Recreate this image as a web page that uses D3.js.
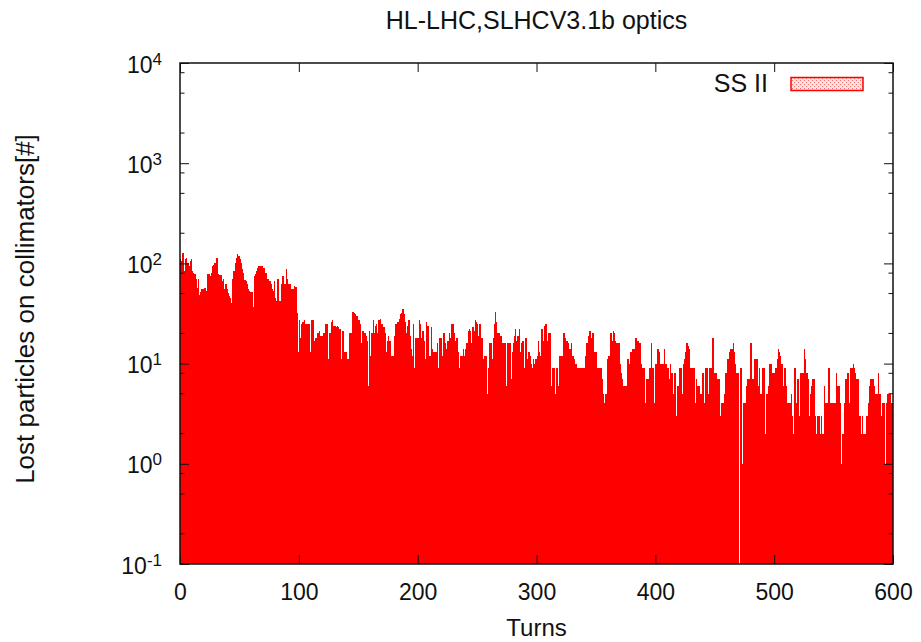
<!DOCTYPE html>
<html>
<head>
<meta charset="utf-8">
<script src="https://cdn.jsdelivr.net/npm/d3@7"></script>
<style>
  body { margin: 0; background: #fff; }
  #svg-container { width: 921px; height: 642px; }
  text { font-family: "Liberation Sans", Arial, Helvetica, sans-serif; fill: #111; }
</style>
</head>
<body>
<div id="svg-container"></div>
<script>
////////////////////////////////////////////////////////////////////
////////////////////////////  Data  ////////////////////////////////
// lost particles per turn (one value per turn)
const lostTurns000 = [
  110, 105, 128, 84, 110, 114, 100, 94, 105, 110,
  84, 81, 78, 70, 57, 70, 48, 52, 55, 55,
  57, 57, 53, 78, 78, 75, 81, 94, 97, 100,
  114, 114, 78, 76, 76, 66, 70, 55, 62, 55,
  51, 47, 45, 40, 70, 84, 100, 112, 123, 118,
  110, 100, 88, 81, 68, 66, 62, 55, 53, 52,
  52, 37, 75, 78, 84, 90, 95, 95, 94, 94,
  90, 81, 81, 70, 70, 66, 62, 55, 53, 66,
  45, 42, 70, 42, 42, 62, 75, 62, 62, 88,
  70, 62, 62, 55, 55, 55, 60, 58, 32, 13
];
const lostTurns100 = [
  27, 18, 25, 26, 27, 25, 25, 25, 25, 13,
  27, 27, 27, 17, 18, 20, 20, 21, 19, 19,
  20, 20, 25, 25, 11, 20, 20, 26, 27, 24,
  24, 23, 24, 23, 22, 11, 21, 21, 13, 13,
  11, 11, 20, 20, 20, 33, 32, 31, 30, 30,
  27, 25, 16, 21, 21, 20, 19, 17, 6, 21,
  12, 20, 27, 20, 24, 25, 20, 27, 28, 25,
  25, 23, 20, 13, 17, 19, 17, 12, 12, 12,
  19, 25, 25, 26, 28, 31, 32, 35, 31, 26,
  20, 24, 27, 19, 14, 12, 25, 9, 18, 18
];
const lostTurns200 = [
  18, 27, 25, 18, 21, 17, 11, 26, 24, 12,
  12, 23, 14, 13, 13, 13, 16, 9, 18, 18,
  12, 20, 20, 16, 14, 17, 20, 18, 25, 25,
  20, 17, 18, 18, 13, 9, 12, 12, 14, 12,
  14, 16, 21, 22, 21, 16, 23, 21, 27, 26,
  25, 19, 25, 18, 18, 11, 12, 12, 5, 9,
  16, 16, 11, 18, 25, 33, 26, 20, 20, 19,
  19, 16, 16, 16, 6, 16, 16, 16, 7, 13,
  16, 19, 22, 17, 19, 22, 13, 16, 17, 9,
  18, 18, 11, 13, 12, 10, 9, 11, 10, 11
];
const lostTurns300 = [
  12, 17, 13, 12, 22, 17, 24, 25, 25, 17,
  20, 20, 6, 9, 9, 5, 9, 9, 6, 12,
  12, 12, 20, 20, 18, 17, 16, 14, 14, 16,
  12, 11, 10, 10, 9, 9, 9, 9, 9, 9,
  9, 12, 16, 19, 21, 21, 18, 20, 13, 13,
  13, 9, 9, 9, 9, 7, 5, 4, 5, 11,
  12, 12, 20, 17, 21, 20, 17, 16, 16, 16,
  10, 8, 7, 6, 6, 6, 11, 11, 10, 13,
  14, 14, 14, 18, 17, 17, 16, 16, 10, 9,
  9, 4, 7, 7, 7, 9, 16, 9, 9, 4
];
const lostTurns400 = [
  10, 14, 14, 13, 10, 10, 10, 14, 10, 10,
  9, 7, 10, 8, 8, 5, 8, 3, 6, 6,
  9, 9, 5, 10, 11, 13, 16, 15, 14, 9,
  9, 9, 9, 4, 7, 6, 6, 4, 5, 8,
  8, 4, 9, 9, 5, 9, 9, 9, 18, 8,
  8, 8, 7, 7, 3, 4, 4, 4, 5, 8,
  11, 11, 13, 14, 14, 16, 13, 10, 8, 8,
  0, 9, 9, 1, 4, 4, 6, 7, 7, 7,
  16, 7, 7, 11, 11, 11, 6, 9, 5, 5,
  9, 9, 2, 5, 5, 6, 10, 10, 8, 8
];
const lostTurns500 = [
  8, 9, 11, 14, 13, 12, 10, 6, 9, 9,
  6, 4, 4, 4, 5, 3, 2, 9, 4, 7,
  7, 3, 8, 8, 8, 14, 11, 8, 7, 3,
  5, 6, 7, 7, 3, 2, 3, 3, 2, 3,
  2, 2, 6, 4, 4, 9, 9, 4, 4, 4,
  4, 4, 8, 6, 6, 4, 1, 2, 2, 4,
  7, 8, 8, 4, 9, 9, 10, 9, 8, 7,
  7, 3, 3, 2, 3, 2, 2, 3, 3, 4,
  6, 7, 7, 7, 6, 5, 5, 8, 5, 5,
  3, 4, 4, 1, 4, 5, 5, 5, 4, 4
];

const xTicks = [0, 100, 200, 300, 400, 500, 600];
const yTicks = [0.1, 1, 10, 100, 1000, 10000];
const yExponents = ["-1", "0", "1", "2", "3", "4"];
const minorSteps = [2, 5, 8];

const titleText = "HL-LHC,SLHCV3.1b optics";
const xLabel = "Turns";
const yLabel = "Lost particles on collimators[#]";
const seriesName = "SS II";

const data = []
  .concat(lostTurns000, lostTurns100, lostTurns200, lostTurns300, lostTurns400, lostTurns500)
  .map((v, i) => ({ turn: i, lost: v }));

////////////////////////////////////////////////////////////////////
////////////////////////////  Init  ///////////////////////////////
const width = 921;
const height = 642;
const margin = { top: 63, right: 28, bottom: 78, left: 180 };

const svg = d3
  .select("#svg-container")
  .append("svg")
  .attr("width", width)
  .attr("height", height);

const xScale = d3.scaleLinear().domain([0, 600]).range([margin.left, width - margin.right]);
const yScale = d3.scaleLog().domain([0.1, 10000]).range([height - margin.bottom, margin.top]);

// pattern for the legend sample
const defs = svg.append("defs");
const pat = defs
  .append("pattern")
  .attr("id", "hatch")
  .attr("width", 4)
  .attr("height", 4)
  .attr("patternUnits", "userSpaceOnUse");
pat.append("rect").attr("width", 4).attr("height", 4).attr("fill", "#fbe4e4");
pat.append("rect").attr("width", 1).attr("height", 1).attr("fill", "#f07070");
pat.append("rect").attr("x", 2).attr("y", 2).attr("width", 1).attr("height", 1).attr("fill", "#f07070");

////////////////////////////////////////////////////////////////////
////////////////////////////  Bars  ///////////////////////////////
svg
  .append("g")
  .attr("shape-rendering", "crispEdges")
  .selectAll("rect")
  .data(data.filter((d) => d.lost > 0))
  .join("rect")
  .attr("x", (d) => xScale(d.turn))
  .attr("width", (d) => xScale(d.turn + 1) - xScale(d.turn) + 0.2)
  .attr("y", (d) => yScale(d.lost))
  .attr("height", (d) => yScale(0.1) - yScale(d.lost))
  .attr("fill", "#ff0000");

////////////////////////////////////////////////////////////////////
////////////////////////////  Axes  ///////////////////////////////
const xAxis = d3.axisBottom(xScale).tickValues(xTicks).tickSize(-9).tickSizeOuter(0).tickPadding(20);
const xAxisTop = d3.axisTop(xScale).tickValues(xTicks).tickSize(-9).tickSizeOuter(0).tickFormat("");
const yAxis = d3
  .axisLeft(yScale)
  .tickValues(yTicks)
  .tickSize(-9)
  .tickSizeOuter(0)
  .tickPadding(18);
const yAxisRight = d3.axisRight(yScale).tickValues(yTicks).tickSize(-9).tickSizeOuter(0).tickFormat("");

const gx = svg
  .append("g")
  .attr("transform", `translate(0,${height - margin.bottom})`)
  .call(xAxis);
svg.append("g").attr("transform", `translate(0,${margin.top})`).call(xAxisTop);
const gy = svg.append("g").attr("transform", `translate(${margin.left},0)`).call(yAxis);
svg.append("g").attr("transform", `translate(${width - margin.right},0)`).call(yAxisRight);

// minor log ticks, both sides
const minorTicks = [];
yTicks.slice(0, -1).forEach((d) => minorSteps.forEach((m) => minorTicks.push(d * m)));
const gMinor = svg.append("g");
[
  [margin.left, 4.5],
  [width - margin.right, -4.5],
].forEach(([x0, len]) => {
  gMinor
    .append("g")
    .selectAll("line")
    .data(minorTicks)
    .join("line")
    .attr("x1", x0)
    .attr("x2", x0 + len)
    .attr("y1", (d) => yScale(d))
    .attr("y2", (d) => yScale(d))
    .attr("stroke", "#111")
    .attr("stroke-width", 1);
});

svg.selectAll(".domain").remove();
svg.selectAll(".tick line").attr("stroke", "#111").attr("stroke-width", 1);

gx.selectAll("text").attr("font-size", 23).attr("fill", "#111");

// 10^n labels with superscript
gy.selectAll(".tick text").each(function (d, i) {
  const t = d3.select(this).text("").attr("dy", 9).attr("font-size", 23).attr("fill", "#111");
  t.append("tspan").text("10");
  t.append("tspan").attr("dy", -8).attr("font-size", 17).text(yExponents[i]);
});

// frame
svg
  .append("rect")
  .attr("x", margin.left)
  .attr("y", margin.top)
  .attr("width", width - margin.left - margin.right)
  .attr("height", height - margin.top - margin.bottom)
  .attr("fill", "none")
  .attr("stroke", "#111")
  .attr("stroke-width", 1.5);

////////////////////////////////////////////////////////////////////
////////////////////////////  Labels  /////////////////////////////
svg
  .append("text")
  .attr("x", (margin.left + width - margin.right) / 2)
  .attr("y", 29)
  .attr("text-anchor", "middle")
  .attr("font-size", 25)
  .text(titleText);

svg
  .append("text")
  .attr("x", (margin.left + width - margin.right) / 2)
  .attr("y", 636)
  .attr("text-anchor", "middle")
  .attr("font-size", 24)
  .text(xLabel);

svg
  .append("text")
  .attr("transform", `translate(34,${309}) rotate(-90)`)
  .attr("text-anchor", "middle")
  .attr("font-size", 26)
  .text(yLabel);

// legend
svg
  .append("text")
  .attr("x", 768)
  .attr("y", 92)
  .attr("text-anchor", "end")
  .attr("font-size", 25)
  .text(seriesName);

svg
  .append("rect")
  .attr("x", 791)
  .attr("y", 77.5)
  .attr("width", 72)
  .attr("height", 13)
  .attr("fill", "url(#hatch)")
  .attr("stroke", "#ff0000")
  .attr("stroke-width", 1.5);
</script>
</body>
</html>
